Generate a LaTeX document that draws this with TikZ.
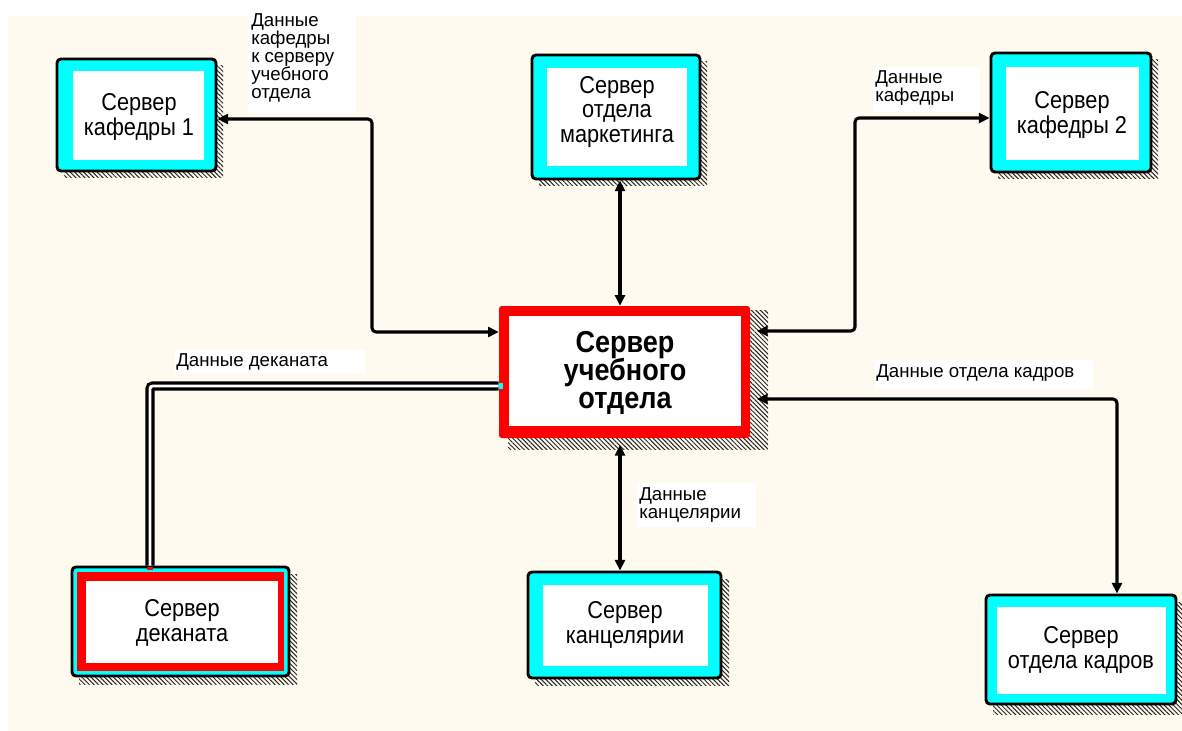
\documentclass[tikz,border=0pt]{standalone}
\usepackage{fontspec}
\usepackage{graphicx}
\setmainfont{Liberation Sans}
\usetikzlibrary{arrows.meta,fit,patterns.meta}
\definecolor{cream}{HTML}{FFFAF0}
\definecolor{boxcyan}{HTML}{00FFFF}
\definecolor{boxred}{HTML}{FF0000}
% centred rows kept exactly \baselineskip apart
\newcommand\stackrows[1]{\vbox{\lineskiplimit=-20pt\def\\{\cr}\halign{\hfil##\hfil\cr#1\crcr}}}
% box captions are set in a tall, tightly spaced stack
\newcommand\boxtext[1]{\scalebox{1}[1.12]{\fontsize{16.3}{16.4}\selectfont\stackrows{#1}}}
\newcommand\maintext[1]{\scalebox{1}[1.12]{\bfseries\fontsize{20.3}{18.75}\selectfont\stackrows{#1}}}
\begin{document}
\begin{tikzpicture}[x=0.75pt,y=-0.75pt,
  cyanbox/.style={inner sep=0pt, draw=black, line width=2.2pt, fill=boxcyan, rounded corners=3pt},
  redbox/.style={inner sep=0pt, fill=boxred, rounded corners=2pt},
  inbox/.style={inner sep=0pt, fill=white},
  caption/.style={inner sep=0pt, anchor=center},
  shadowpat/.style={pattern={Lines[angle=-45,distance=2.4pt,line width=0.75pt]}, pattern color=black!85},
  link/.style={line width=2.3pt, rounded corners=3pt,
    {Triangle[length=8pt,width=7.5pt]}-{Triangle[length=8pt,width=7.5pt]}},
  dbl/.style={draw=black, line width=2.3pt, double=white, double distance=2.2pt, rounded corners=2pt},
  lbl/.style={inner sep=0pt, anchor=north west, align=left, font=\fontsize{14}{13.5}\selectfont}]

\useasboundingbox (0,0) rectangle (1182,731);
\fill[white] (0,0) rectangle (1182,731);
\fill[cream] (8,16) rectangle (1182,731);

% dithered drop shadows
\fill[shadowpat] (64,66) rectangle (223,178);
\fill[shadowpat] (539,62) rectangle (707,186);
\fill[shadowpat] (998,60) rectangle (1158,179);
\fill[shadowpat] (508,310) rectangle (768,449);
\fill[shadowpat] (79,574) rectangle (297,684);
\fill[shadowpat] (535,579) rectangle (729,685);
\fill[shadowpat] (993,602) rectangle (1182,714);

% server boxes: frame, white field, caption
\node[cyanbox, fit={(57,59)(216,171)}] (k1) {};
\node[inbox, fit={(73,71)(204,160)}] (k1w) {};
\node[caption] (k1t) at (139,117) {\boxtext{Сервер\\кафедры 1}};

\node[cyanbox, fit={(532,55)(700,179)}] (mk) {};
\node[inbox, fit={(547,68)(687,166)}] (mkw) {};
\node[caption] (mkt) at (617,112) {\boxtext{Сервер\\отдела\\маркетинга}};

\node[cyanbox, fit={(991,53)(1151,172)}] (k2) {};
\node[inbox, fit={(1006,67)(1139,160)}] (k2w) {};
\node[caption] (k2t) at (1072,115) {\boxtext{Сервер\\кафедры 2}};

\node[redbox, fit={(499,306)(750,438)}] (uc) {};
\node[inbox, fit={(509,316)(741,426)}] (ucw) {};
\node[caption] (uct) at (625,373) {\maintext{Сервер\\учебного\\отдела}};

\node[cyanbox, fit={(72,567)(289,676)}] (dk) {};
\fill[boxred] (77,572) rectangle (284,671);
\node[inbox, fit={(86,581)(278,663)}] (dkw) {};
\node[caption] (dkt) at (182,623) {\boxtext{Сервер\\деканата}};

\node[cyanbox, fit={(528,572)(721,678)}] (kn) {};
\node[inbox, fit={(543,585)(708,666)}] (knw) {};
\node[caption] (knt) at (625,625) {\boxtext{Сервер\\канцелярии}};

\node[cyanbox, fit={(986,595)(1176,704)}] (hr) {};
\node[inbox, fit={(997,607)(1166,694)}] (hrw) {};
\node[caption] (hrt) at (1081,650) {\boxtext{Сервер\\отдела кадров}};

% bend points of the connectors
\coordinate (j1) at (372,119);
\coordinate (j2) at (372,332);
\coordinate (jv) at (620,372);
\coordinate (j3) at (855,118);
\coordinate (j4) at (855,331);
\coordinate (j5) at (1117,399);
\coordinate (j6) at (150,386);

% connectors
\draw[link] (k1.east |- j1) -- (j1) -- (j2) -- (j2 -| uc.west);
\draw[link] (mk.south -| jv) -- (uc.north -| jv);
\draw[link, shorten <=5pt] (uc.east |- j4) -- (j4) -- (j3) -- (k2.west |- j3);
\draw[link, shorten <=5pt] (uc.east |- j5) -- (j5) -- (hr.north -| j5);
\draw[link, shorten <=5pt] (uc.south -| jv) -- (kn.north -| jv);
\draw[dbl] (uc.west |- j6) -- (j6) -- (dk.north -| j6);
% small port marks where the double link meets its boxes
\fill[boxcyan] (499,383) rectangle (503,389);
\fill[boxred] (147,567) rectangle (153,570);

% connector labels
\fill[white] (248,16) rectangle (356,113);
\node[lbl] (l1) at (251,13) {Данные\\кафедры\\к серверу\\учебного\\отдела};
\fill[white] (873,67) rectangle (980,112);
\node[lbl] (l2) at (875,70) {Данные\\кафедры};
\fill[white] (175,350) rectangle (365,373);
\node[lbl] (l3) at (176,353) {Данные деканата};
\fill[white] (637,483) rectangle (756,527);
\node[lbl] (l4) at (639,487) {Данные\\канцелярии};
\fill[white] (875,360) rectangle (1093,389);
\node[lbl] (l5) at (876,364) {Данные отдела кадров};
\end{tikzpicture}
\end{document}
